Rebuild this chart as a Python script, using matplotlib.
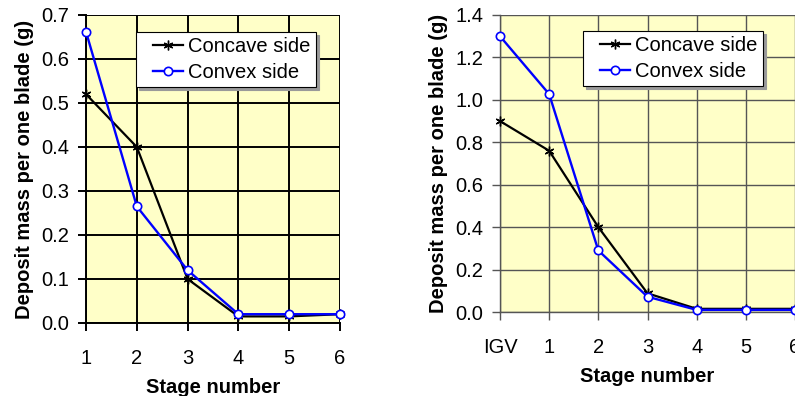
import matplotlib
matplotlib.use("Agg")
import matplotlib.pyplot as plt
from matplotlib.legend_handler import HandlerLine2D

plt.rcParams['font.family'] = ['Liberation Sans', 'DejaVu Sans']

# Stage-wise deposit mass, first compressor
stages_a = ["1", "2", "3", "4", "5", "6"]
concave_a = [0.52, 0.40, 0.10, 0.015, 0.015, 0.02]
convex_a = [0.662, 0.265, 0.12, 0.02, 0.02, 0.02]

# Stage-wise deposit mass, second compressor (with inlet guide vanes)
stages_b = ["IGV", "1", "2", "3", "4", "5", "6"]
concave_b = [0.90, 0.76, 0.40, 0.088, 0.015, 0.015, 0.015]
convex_b = [1.30, 1.027, 0.29, 0.072, 0.01, 0.01, 0.01]

yticks_a = [0.0, 0.1, 0.2, 0.3, 0.4, 0.5, 0.6, 0.7]
yticks_b = [0.0, 0.2, 0.4, 0.6, 0.8, 1.0, 1.2, 1.4]

W, H = 795, 396
fig = plt.figure(figsize=(W / 100, H / 100), dpi=100)
bg = "#FFFFC8"
FS = 14.5


def draw(ax, labels, concave, convex, yticks, gridc, gridw, legend_box):
    x = list(range(len(labels)))
    ax.set_facecolor(bg)
    l1, = ax.plot(x, concave, color="black", lw=1.6, marker=(6, 2, 0), ms=7,
                  mew=1.0, label="Concave side", zorder=3, clip_on=False)
    l2, = ax.plot(x, convex, color="#0000FF", lw=1.7, marker="o", ms=6,
                  mfc="white", mec="#0000FF", mew=1.2, label="Convex side",
                  zorder=4, clip_on=False)
    ax.set_xlim(0, len(labels) - 1)
    ax.set_ylim(yticks[0], yticks[-1])
    ax.set_xticks(x)
    ax.set_xticklabels(labels)
    ax.set_yticks(yticks)
    ax.set_yticklabels([f"{v:.1f}" for v in yticks])
    ax.grid(True, color=gridc, lw=gridw)
    ax.set_axisbelow(True)
    for s in ("top", "right"):
        ax.spines[s].set_visible(False)
    for s in ("left", "bottom"):
        ax.spines[s].set_color(gridc)
        ax.spines[s].set_linewidth(gridw)
    ax.tick_params(direction="out", length=6, width=gridw, color=gridc,
                   labelsize=FS, pad=6)
    ax.tick_params(axis="x", pad=13)
    ax.set_xlabel("Stage number", fontsize=FS, fontweight="bold", labelpad=7)
    ax.set_ylabel("Deposit mass per one blade (g)", fontsize=FS,
                  fontweight="bold", labelpad=5)
    hm = {l1: HandlerLine2D(xpad=0.6), l2: HandlerLine2D(xpad=0.6)}
    leg = ax.legend(handles=[l1, l2], loc="upper left",
                    bbox_to_anchor=legend_box, handler_map=hm,
                    fontsize=FS, frameon=True, fancybox=False,
                    shadow={"ox": 2, "oy": -2, "color": "#9a9a9a", "alpha": 1},
                    handlelength=2.1, handletextpad=0.25, borderpad=0.25,
                    labelspacing=0.35, borderaxespad=0)
    leg.get_frame().set_edgecolor("black")
    leg.get_frame().set_linewidth(0.8)
    leg.get_frame().set_facecolor("white")


ax1 = fig.add_axes([86 / W, 1 - 323 / H, (340 - 86) / W, (323 - 15) / H])
draw(ax1, stages_a, concave_a, convex_a, yticks_a, "black", 1.4,
     ((136 - 86) / 254, (323 - 32) / 308))

ax2 = fig.add_axes([500 / W, 1 - 312 / H, (795 - 500) / W, (312 - 15) / H])
draw(ax2, stages_b, concave_b, convex_b, yticks_b, "#555555", 1.0,
     ((583 - 500) / 295, (312 - 31) / 297))

fig.savefig("out.png", dpi=100)
